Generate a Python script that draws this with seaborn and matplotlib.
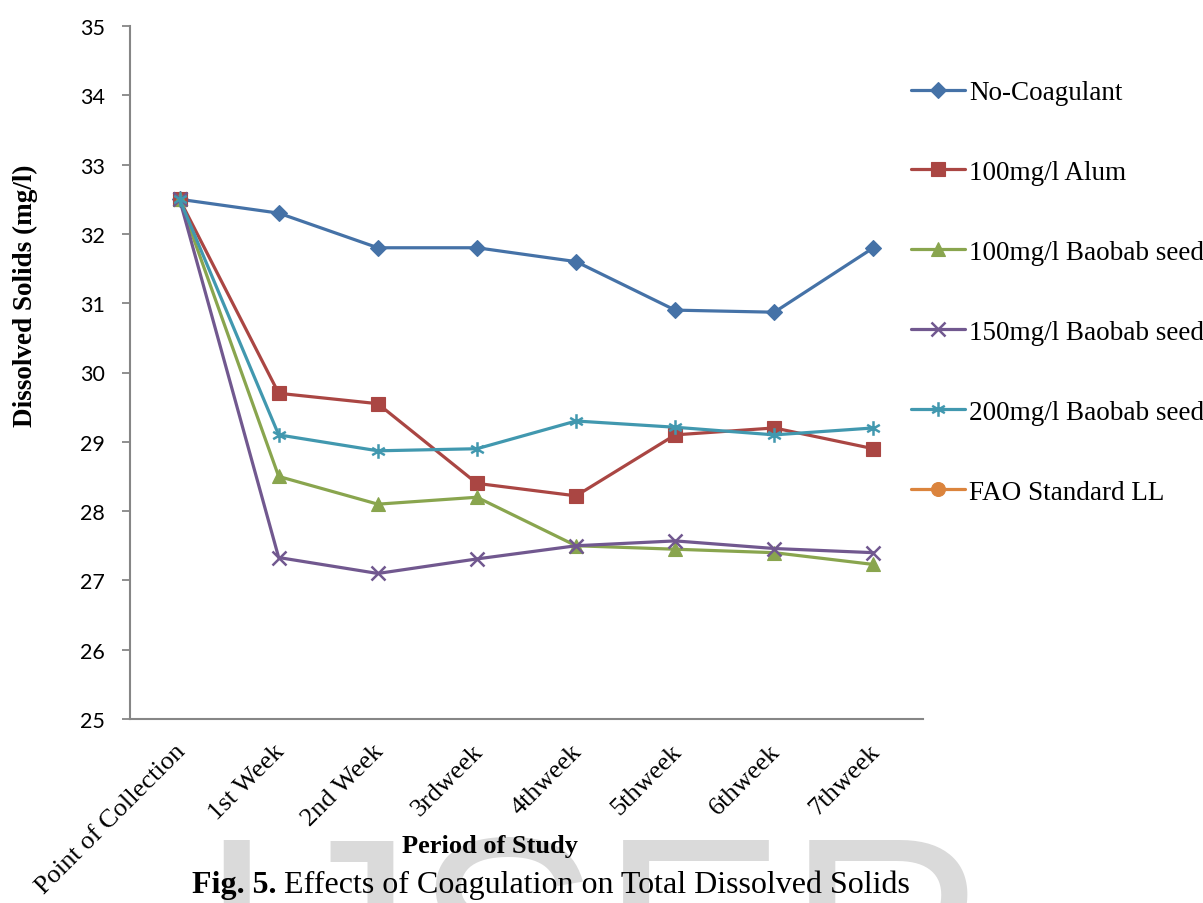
import numpy as np
import pandas as pd
import matplotlib
matplotlib.use("Agg")
import matplotlib.pyplot as plt
import matplotlib.transforms as mtransforms
from matplotlib.path import Path
from matplotlib.lines import Line2D
import seaborn as sns

# ---- data -------------------------------------------------------------
periods = ["Point of Collection", "1st Week", "2nd Week", "3rdweek",
           "4thweek", "5thweek", "6thweek", "7thweek"]
no_coagulant = [32.5, 32.3, 31.8, 31.8, 31.6, 30.9, 30.87, 31.8]
alum_100 = [32.5, 29.7, 29.55, 28.4, 28.22, 29.1, 29.2, 28.9]
baobab_100 = [32.5, 28.5, 28.1, 28.2, 27.5, 27.45, 27.4, 27.23]
baobab_150 = [32.5, 27.33, 27.1, 27.31, 27.5, 27.57, 27.46, 27.4]
baobab_200 = [32.5, 29.1, 28.87, 28.9, 29.3, 29.21, 29.1, 29.2]
fao_standard_ll = [np.nan] * 8

series_names = ["No-Coagulant", "100mg/l Alum", "100mg/l Baobab seed",
                "150mg/l Baobab seed", "200mg/l Baobab seed", "FAO Standard LL"]
series_values = [no_coagulant, alum_100, baobab_100, baobab_150,
                 baobab_200, fao_standard_ll]

# ---- styling ----------------------------------------------------------
sns.set_theme(style="white")
plt.rcParams["font.family"] = ["Liberation Serif", "DejaVu Serif"]
plt.rcParams.update({"text.color": "black", "axes.labelcolor": "black",
                     "xtick.color": "black", "ytick.color": "black"})

colors = ["#4572A7", "#AA4643", "#89A54E", "#71588F", "#4198AF", "#DB843D"]

# six-armed asterisk marker
asterisk = Path(
    [(0, -1), (0, 1), (-0.87, -0.5), (0.87, 0.5), (-0.87, 0.5), (0.87, -0.5)],
    [Path.MOVETO, Path.LINETO, Path.MOVETO, Path.LINETO, Path.MOVETO, Path.LINETO],
)
marker_styles = [
    dict(marker="D", ms=8.5, mew=0.8, fill=True),
    dict(marker="s", ms=10, mew=0.8, fill=True),
    dict(marker="^", ms=10.5, mew=0.8, fill=True),
    dict(marker="x", ms=9.5, mew=1.8, fill=False),
    dict(marker=asterisk, ms=10.5, mew=1.8, fill=False),
    dict(marker="o", ms=10, mew=0.8, fill=True),
]

W, H = 1203, 904
fig = plt.figure(figsize=(W / 100, H / 100), dpi=100)
fig.patch.set_facecolor("white")

def fx(x):
    return x / W

def fy(y):
    return 1 - y / H

ax = fig.add_axes([fx(130), fy(720), fx(923) - fx(130), fy(27) - fy(720)])
ax.set_facecolor("none")

positions = np.arange(len(periods))
frames = []
for name, vals in zip(series_names, series_values):
    frames.append(pd.DataFrame({"pos": positions, "value": vals, "series": name}))
df = pd.concat(frames, ignore_index=True)

handles = []
for name, color, ms in zip(series_names, colors, marker_styles):
    sub = df[df["series"] == name].dropna()
    face = color if ms["fill"] else "none"
    if len(sub):
        sns.lineplot(data=sub, x="pos", y="value", ax=ax, color=color,
                     lw=2.3, marker=ms["marker"], markersize=ms["ms"],
                     markeredgewidth=ms["mew"], markeredgecolor=color,
                     markerfacecolor=face, sort=False, legend=False,
                     errorbar=None)
    handles.append(Line2D([0], [0], color=color, lw=2.3, marker=ms["marker"],
                          markersize=ms["ms"], markeredgewidth=ms["mew"],
                          markeredgecolor=color, markerfacecolor=face))

# ---- axes -------------------------------------------------------------
axis_gray = "#868686"
ax.set_xlim(-0.5, len(periods) - 0.5)
ax.set_ylim(25, 35)
ax.set_yticks(np.arange(25, 36, 1))
ax.set_yticklabels([str(v) for v in range(25, 36)], fontfamily="Lato",
                   fontsize=15.5, color="black")
ax.set_xticks(positions)
ax.set_xticklabels(periods, rotation=45, ha="right", va="top",
                   rotation_mode="anchor", fontsize=19, color="black")
ax.set_xticks(np.arange(-0.5, len(periods), 1), minor=True)
ax.tick_params(axis="x", which="major", length=0, pad=15)
ax.tick_params(axis="x", which="minor", length=6, width=1.3, color=axis_gray,
               direction="out")
ax.tick_params(axis="y", which="major", length=6, width=1.3, color=axis_gray,
               direction="out", pad=12, left=True)
shift = mtransforms.ScaledTranslation(-5 / 100, 0, fig.dpi_scale_trans)
for lab in ax.get_xticklabels():
    lab.set_transform(lab.get_transform() + shift)

for side in ["top", "right"]:
    ax.spines[side].set_visible(False)
for side in ["left", "bottom"]:
    ax.spines[side].set_color(axis_gray)
    ax.spines[side].set_linewidth(1.5)
ax.grid(False)
ax.set_xlabel("")
ax.set_ylabel("")

# ---- labels -----------------------------------------------------------
fig.text(fx(25), fy(296), "Dissolved Solids (mg/l)", rotation=90,
         ha="center", va="center", fontsize=19.5, fontweight="bold", zorder=5)
fig.text(fx(490), fy(853), "Period of Study", ha="center", va="baseline",
         fontsize=19, fontweight="bold", zorder=5)

# watermark behind the caption
fig.text(fx(197), fy(1032), "IJSER", fontfamily="Liberation Sans",
         fontsize=201, color="#dadada", ha="left", va="baseline", zorder=-5)

renderer = fig.canvas.get_renderer()
cap_bold = fig.text(fx(192), fy(893), "Fig. 5.", ha="left", va="baseline",
                    fontsize=23, fontweight="bold", zorder=5)
bb = cap_bold.get_window_extent(renderer)
fig.text(fx(bb.x1 + 7), fy(893), "Effects of Coagulation on Total Dissolved Solids",
         ha="left", va="baseline", fontsize=23, zorder=5)

fig.legend(handles, series_names, loc="upper left",
           bbox_to_anchor=(fx(911), fy(81)), frameon=False, fontsize=19.5,
           handlelength=2.0, handletextpad=0.15, labelspacing=2.03,
           borderpad=0, borderaxespad=0)

fig.savefig("out.png", dpi=100, facecolor="white")
